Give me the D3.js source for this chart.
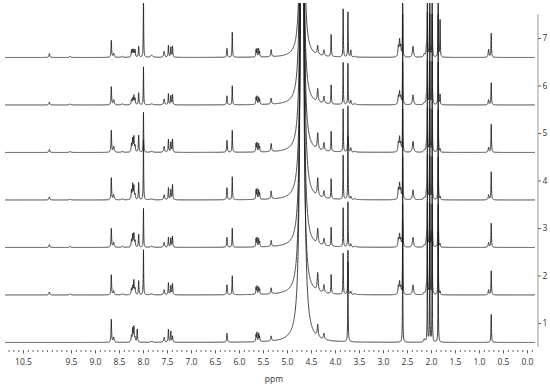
<!DOCTYPE html>
<html>
<head>
<meta charset="utf-8">
<script src="https://cdn.jsdelivr.net/npm/d3@7"></script>
<style>
  html, body { margin: 0; padding: 0; background: #fff; }
  svg { display: block; }
  text { font-family: "Open Sans", "DejaVu Sans", sans-serif; fill: #333; }
</style>
</head>
<body>
<svg id="chart" width="550" height="386"></svg>
<script>
// ---------------- DATA ----------------
// Chemical-shift positions (ppm) of the resolved peaks, shared by all traces
const peakPpm   = [9.95, 9.52, 8.66, 8.61, 8.43, 8.24, 8.215, 8.19, 8.165, 8.12, 8.09, 7.99, 7.82,
                   7.56, 7.47, 7.42, 7.385, 6.25, 6.14, 5.645, 5.625, 5.59, 5.57, 5.33,
                   4.36, 4.23, 4.08, 3.83, 3.73, 3.67, 3.58, 2.68, 2.655, 2.63, 2.59,
                   2.375, 2.14, 2.095, 2.075, 2.025, 1.975, 1.85, 1.81, 0.80, 0.745];
// Half-width at half-height of each peak (ppm)
const peakWidth = [0.010, 0.015, 0.007, 0.012, 0.020, 0.008, 0.008, 0.008, 0.008, 0.007, 0.007, 0.005, 0.030,
                   0.012, 0.007, 0.007, 0.007, 0.008, 0.006, 0.006, 0.006, 0.006, 0.006, 0.010,
                   0.012, 0.012, 0.006, 0.005, 0.005, 0.008, 0.015, 0.010, 0.010, 0.010, 0.004,
                   0.014, 0.015, 0.010, 0.004, 0.004, 0.004, 0.004, 0.005, 0.010, 0.006];
// Peak heights (a.u.) of each trace, same order as peakPpm
const trace1 = [0, 0, 23, 5, 0, 6, 13, 15, 4, 13, 0, 0, 1,
                5, 13, 11, 6, 9, 0, 7, 9, 8, 5, 5,
                12, 6, 0, 0, 80, 0, 0, 0, 0, 0, 120,
                0, 3, 0, 110, 110, 110, 110, 0, 0, 28];
const trace2 = [3, 1, 20, 4, 1, 6, 8, 14, 6, 0, 14, 45, 1,
                5, 12, 9, 11, 10, 19, 7, 8, 7, 5, 6,
                18, 8, 19, 41, 44, 3, 1, 8, 12, 7, 90,
                10, 2, 8, 90, 90, 90, 90, 3, 5, 24];
const trace3 = [3, 1, 19, 5, 1, 7, 12, 13, 6, 0, 13, 39, 1,
                5, 10, 9, 11, 10, 19, 8, 9, 8, 5, 6,
                15, 7, 19, 39, 45, 3, 1, 8, 12, 7, 90,
                10, 2, 8, 90, 90, 90, 90, 3, 5, 24];
const trace4 = [3, 1, 22, 5, 1, 9, 15, 13, 5, 0, 17, 60, 1,
                5, 12, 10, 15, 12, 23, 9, 10, 9, 6, 8,
                18, 7, 20, 44, 63, 3, 1, 10, 15, 9, 90,
                10, 2, 8, 90, 90, 90, 90, 3, 5, 28];
const trace5 = [3, 1, 22, 6, 1, 8, 13, 15, 6, 0, 17, 40, 1,
                6, 13, 10, 13, 12, 22, 8, 9, 8, 5, 8,
                16, 8, 20, 43, 46, 4, 1, 9, 14, 8, 90,
                11, 2, 8, 90, 90, 90, 90, 3, 5, 28];
const trace6 = [3, 1, 18, 5, 1, 5, 6, 9, 6, 0, 12, 38, 1,
                6, 11, 9, 10, 9, 19, 7, 8, 7, 5, 6,
                13, 7, 19, 42, 41, 4, 1, 8, 12, 7, 90,
                10, 2, 8, 90, 90, 90, 90, 10, 5, 22];
const trace7 = [4, 1, 17, 4, 1, 7, 7, 7, 7, 0, 11, 60, 2,
                6, 12, 10, 11, 9, 25, 7, 8, 8, 5, 7,
                9, 6, 22, 48, 45, 7, 1, 10, 16, 10, 90,
                11, 3, 10, 90, 90, 90, 90, 37, 8, 24];
// Residual water signal of each trace: position (ppm), height (a.u.), half-width (ppm)
const waterPpm    = [4.685, 4.69, 4.685, 4.68, 4.685, 4.69, 4.685];
const waterHeight = [1850, 1350, 1250, 1250, 1100, 1050, 950];
const waterWidth  = [0.019, 0.019, 0.019, 0.019, 0.019, 0.019, 0.019];
// Axis tick labels
const ppmTickLabels   = [10.5, 9.5, 9.0, 8.5, 8.0, 7.5, 7.0, 6.5, 6.0, 5.5, 5.0, 4.5, 4.0, 3.5, 3.0, 2.5, 2.0, 1.5, 1.0, 0.5, 0.0];
const traceTickLabels = [1, 2, 3, 4, 5, 6, 7];
const traces = [trace1, trace2, trace3, trace4, trace5, trace6, trace7];

// ---------------- LAYOUT ----------------
const svg = d3.select("#chart");
const ppmMin = -0.167, ppmMax = 10.875;
const x = d3.scaleLinear().domain([ppmMax, ppmMin]).range([5, 535]);
const y = d3.scaleLinear().domain([0.5, 7.5]).range([346.75, 14.25]);
const stackUnit = 47.5;      // a.u. per stacking step
const baseShift = 0.41;      // baseline sits below the trace label

svg.append("defs").append("clipPath").attr("id", "plotClip")
  .append("rect").attr("x", 0).attr("y", 3).attr("width", 540).attr("height", 350);

// Sampling grid in ppm (plus exact peak centres so apices are kept)
const grid = d3.range(ppmMax, ppmMin, -0.002).concat(peakPpm).concat(waterPpm)
  .sort((a, b) => b - a);

function intensity(k, p) {
  const h = traces[k];
  let s = 0;
  for (let i = 0; i < peakPpm.length; i++) {
    if (!h[i]) continue;
    const d = (p - peakPpm[i]) / peakWidth[i];
    s += h[i] / (1 + d * d);
  }
  const dw = (p - waterPpm[k]) / waterWidth[k];
  s += waterHeight[k] / (1 + dw * dw);
  return s;
}

const line = d3.line().x(d => x(d[0])).y(d => y(d[1]));
const g = svg.append("g").attr("clip-path", "url(#plotClip)");
traces.forEach((t, k) => {
  const pts = grid.map(p => [p, traceTickLabels[k] - baseShift + intensity(k, p) / stackUnit]);
  g.append("path").datum(pts)
    .attr("d", line)
    .attr("fill", "none")
    .attr("stroke", "#1e1e1e")
    .attr("stroke-width", 0.85)
    .attr("stroke-linejoin", "round");
});

// ---------------- X AXIS ----------------
const minorTicks = d3.range(108, -2, -1).map(v => v / 10);
const xMinor = d3.axisBottom(x).tickValues(minorTicks).tickSize(2).tickFormat("");
const xMajor = d3.axisBottom(x).tickValues(ppmTickLabels).tickSize(3.5).tickPadding(5.5)
  .tickFormat(d3.format(".1f"));
const gxMinor = svg.append("g").attr("transform", "translate(0,350)").call(xMinor);
const gxMajor = svg.append("g").attr("transform", "translate(0,350)").call(xMajor);
[gxMinor, gxMajor].forEach(ax => {
  ax.select(".domain").remove();
  ax.selectAll("line").attr("stroke", "#666");
});
gxMajor.selectAll("text").attr("font-size", "8.5px").attr("fill", "#333")
  .style("font-family", "'Open Sans', sans-serif");
svg.append("text").attr("x", 274).attr("y", 382).attr("text-anchor", "middle")
  .attr("font-size", "8.5px").text("ppm");

// ---------------- RIGHT AXIS ----------------
const yAxis = d3.axisRight(y).tickValues(traceTickLabels).tickSize(3).tickPadding(1.5)
  .tickFormat(d3.format("d"));
const gy = svg.append("g").attr("transform", "translate(538,0)").call(yAxis);
gy.select(".domain").attr("stroke", "#999").attr("d", `M0,${y(7.5)}V${y(0.5)}`);
gy.selectAll("line").attr("stroke", "#666");
gy.selectAll("text").attr("font-size", "8.5px").attr("fill", "#333")
  .style("font-family", "'Open Sans', sans-serif");
</script>
</body>
</html>
